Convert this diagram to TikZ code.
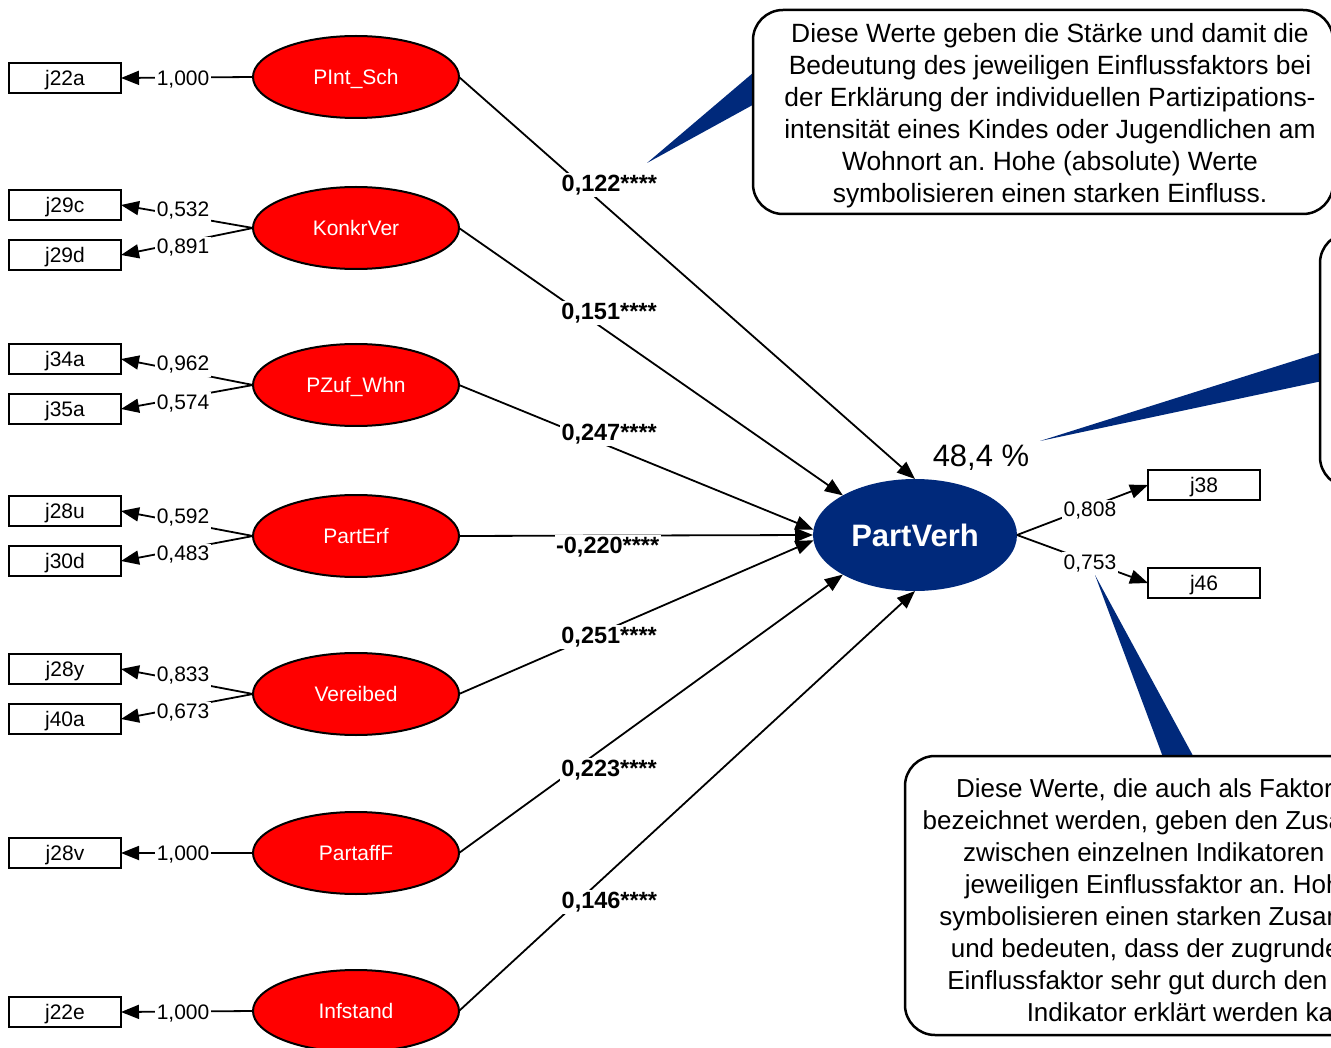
\documentclass[tikz,border=0pt]{standalone}
\usepackage{fontspec}
\setmainfont{Liberation Sans}
\usetikzlibrary{shapes.geometric,arrows.meta,calc}
\definecolor{navy}{RGB}{0,41,123}
\definecolor{lred}{RGB}{255,0,0}
\begin{document}
\frenchspacing
\begin{tikzpicture}[x=1pt,y=-1pt,
  ind/.style={draw, line width=2.4pt, fill=white, minimum width=112pt, minimum height=30pt, inner sep=0pt, outer sep=0pt, text height=15pt, text depth=0pt, font=\fontsize{21}{24}\selectfont},
  lat/.style={ellipse, draw, line width=2pt, fill=lred, text=white, minimum width=206pt, minimum height=82pt, inner sep=0pt, outer sep=0pt, text height=15pt, text depth=0pt, font=\fontsize{21}{24}\selectfont},
  endo/.style={ellipse, fill=navy, text=white, minimum width=204pt, minimum height=112pt, inner sep=0pt, outer sep=0pt, text height=22pt, text depth=0pt, font=\bfseries\fontsize{31}{34}\selectfont},
  conn/.style={line width=1.8pt, -{Triangle[length=18pt,width=14pt]}},
  ld/.style={fill=white, inner sep=2pt, text height=15pt, text depth=4pt, yshift=-2pt, font=\fontsize{21}{24}\selectfont},
  coef/.style={fill=white, inner sep=1.5pt, text height=17pt, text depth=4pt, yshift=-2pt, font=\bfseries\fontsize{23.5}{26}\selectfont},
  callout/.style={draw, line width=2.5pt, fill=white, rounded corners=30pt},
  ctext/.style={align=center, inner sep=0pt, font=\fontsize{26}{32}\selectfont}
]
\useasboundingbox (0,0) rectangle (1331,1048);
\begin{scope}
\clip (0,0) rectangle (1331,1048);
% callout pointers
\fill[navy] (647,163) -- (800,33) -- (800,79) -- cycle;
\fill[navy] (1040,441) -- (1360,340) -- (1360,373) -- cycle;
\fill[navy] (1095,575) -- (1179,800) -- (1217,800) -- cycle;
% callout boxes
\draw[callout] (753,10) rectangle (1333,214);
\draw[callout] (1320,233) rectangle (1640,487);
\draw[callout] (905,756) rectangle (1491,1035);
\node[ctext, font=\fontsize{26.4}{32}\selectfont] (t1) at (1050,116) {Diese Werte geben die Stärke und damit die\\Bedeutung des jeweiligen Einflussfaktors bei\\der Erklärung der individuellen Partizipations-\\intensität eines Kindes oder Jugendlichen am\\Wohnort an. Hohe (absolute) Werte\\symbolisieren einen starken Einfluss.};
\node[ctext] (t3) at (1198,900) {Diese Werte, die auch als Faktorladungen\\bezeichnet werden, geben den Zusammenhang\\zwischen einzelnen Indikatoren und dem\\jeweiligen Einflussfaktor an. Hohe Werte\\symbolisieren einen starken Zusammenhang\\und bedeuten, dass der zugrunde liegende\\Einflussfaktor sehr gut durch den jeweiligen\\Indikator erklärt werden kann.};
% latent factors
\node[lat] (L1) at (356,77) {PInt\_Sch};
\node[lat] (L2) at (356,228) {KonkrVer};
\node[lat] (L3) at (356,385) {PZuf\_Whn};
\node[lat] (L4) at (356,536) {PartErf};
\node[lat] (L5) at (356,694) {Vereibed};
\node[lat] (L6) at (356,853) {PartaffF};
\node[lat] (L7) at (356,1011) {Infstand};
\node[endo] (PV) at (915,535) {PartVerh};
% indicators
\node[ind] (j22a) at (65,78) {j22a};
\node[ind] (j29c) at (65,205) {j29c};
\node[ind] (j29d) at (65,255) {j29d};
\node[ind] (j34a) at (65,359) {j34a};
\node[ind] (j35a) at (65,409) {j35a};
\node[ind] (j28u) at (65,511) {j28u};
\node[ind] (j30d) at (65,561) {j30d};
\node[ind] (j28y) at (65,669) {j28y};
\node[ind] (j40a) at (65,719) {j40a};
\node[ind] (j28v) at (65,853) {j28v};
\node[ind] (j22e) at (65,1012) {j22e};
\node[ind] (j38) at (1204,485) {j38};
\node[ind] (j46) at (1204,583) {j46};
% measurement paths
\draw[conn] (L1.west) -- node[ld,pos=0.53]{1,000} (j22a.east);
\draw[conn] (L2.west) -- node[ld,pos=0.53,yshift=7pt]{0,532} (j29c.east);
\draw[conn] (L2.west) -- node[ld,pos=0.53,yshift=-4pt]{0,891} (j29d.east);
\draw[conn] (L3.west) -- node[ld,pos=0.53,yshift=8pt]{0,962} (j34a.east);
\draw[conn] (L3.west) -- node[ld,pos=0.53,yshift=-4pt]{0,574} (j35a.east);
\draw[conn] (L4.west) -- node[ld,pos=0.53,yshift=7pt]{0,592} (j28u.east);
\draw[conn] (L4.west) -- node[ld,pos=0.53,yshift=-4pt]{0,483} (j30d.east);
\draw[conn] (L5.west) -- node[ld,pos=0.53,yshift=7pt]{0,833} (j28y.east);
\draw[conn] (L5.west) -- node[ld,pos=0.53,yshift=-4pt]{0,673} (j40a.east);
\draw[conn] (L6.west) -- node[ld,pos=0.53]{1,000} (j28v.east);
\draw[conn] (L7.west) -- node[ld,pos=0.53]{1,000} (j22e.east);
% structural paths
\draw[conn] (L1.east) -- node[coef,pos=0.264,xshift=30pt]{0,122****} (PV.north);
\draw[conn] (L2.east) -- node[coef,pos=0.31,xshift=31pt]{0,151****} (PV.north west);
\draw[conn] (L3.east) -- node[coef,pos=0.325,xshift=35pt]{0,247****} (PV.177);
\draw[conn] (L4.east) -- node[coef,pos=0.42,yshift=-9pt]{-0,220****} (PV.west);
\draw[conn] (L5.east) -- node[coef,pos=0.384,xshift=14pt]{0,251****} (PV.183);
\draw[conn] (L6.east) -- node[coef,pos=0.305,xshift=33pt]{0,223****} (PV.south west);
\draw[conn] (L7.east) -- node[coef,pos=0.264,xshift=30pt]{0,146****} (PV.south);
% endogenous indicators
\draw[conn] (PV.east) -- node[ld,pos=0.557,yshift=-2pt]{0,808} (j38.west);
\draw[conn] (PV.east) -- node[ld,pos=0.557]{0,753} (j46.west);
\node[font=\fontsize{31}{34}\selectfont, inner sep=0pt, text height=22pt, text depth=0pt] (r2) at (981,456) {48,4 \%};
\end{scope}
\end{tikzpicture}
\end{document}
